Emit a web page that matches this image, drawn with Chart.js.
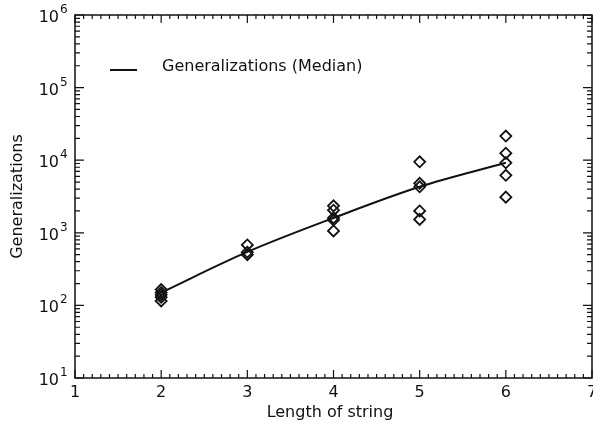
<!DOCTYPE html>
<html>
<head>
<meta charset="utf-8">
<script src="https://cdn.jsdelivr.net/npm/chart.js@4.4.0/dist/chart.umd.min.js"></script>
<style>
    html, body { margin: 0; padding: 0; background: #fff; }
    #wrap { width: 593px; height: 427px; }
</style>
</head>
<body>
<div id="wrap"><canvas id="chart" width="593" height="427"></canvas></div>
<script>
// --- Data ---
const stringLengths = [2, 3, 4, 5, 6];
const medianGeneralizations = [150, 545, 1600, 4300, 9200];
const runsLen2 = [165, 150, 140, 130, 115];
const runsLen3 = [680, 540, 500];
const runsLen4 = [2350, 2050, 1600, 1500, 1060];
const runsLen5 = [9500, 4800, 4300, 2000, 1530];
const runsLen6 = [21500, 12500, 9200, 6200, 3100];
const xTickLabels = ['1', '2', '3', '4', '5', '6', '7'];
const yTickExponents = ['1', '2', '3', '4', '5', '6'];

const FONT = '"DejaVu Sans", sans-serif';
const INK = '#111';

const allRuns = [runsLen2, runsLen3, runsLen4, runsLen5, runsLen6];
const runPoints = [];
allRuns.forEach((runs, i) => {
    runs.forEach(v => runPoints.push({ x: stringLengths[i], y: v }));
});
const medianPoints = stringLengths.map((x, i) => ({ x: x, y: medianGeneralizations[i] }));

// --- Frame, inward ticks, labels and legend (IDL style) ---
const framePlugin = {
    id: 'frame',
    afterDraw(chart) {
        const ctx = chart.ctx;
        const xs = chart.scales.x;
        const ys = chart.scales.y;
        const { left, right, top, bottom } = chart.chartArea;

        ctx.save();
        ctx.strokeStyle = INK;
        ctx.fillStyle = INK;
        ctx.lineWidth = 1.5;
        ctx.strokeRect(left, top, right - left, bottom - top);

        // x ticks, every 0.1
        ctx.lineWidth = 1.2;
        ctx.beginPath();
        for (let i = 10; i <= 70; i++) {
            const px = xs.getPixelForValue(i / 10);
            const len = i % 10 === 0 ? 8 : 4;
            ctx.moveTo(px, bottom); ctx.lineTo(px, bottom - len);
            ctx.moveTo(px, top); ctx.lineTo(px, top + len);
        }
        // y ticks, decades and 2..9
        for (let e = 1; e <= 6; e++) {
            for (let m = 1; m <= 9; m++) {
                if (e === 6 && m > 1) break;
                const py = ys.getPixelForValue(m * Math.pow(10, e));
                const len = m === 1 ? 9 : 5;
                ctx.moveTo(left, py); ctx.lineTo(left + len, py);
                ctx.moveTo(right, py); ctx.lineTo(right - len, py);
            }
        }
        ctx.stroke();

        // x tick labels
        ctx.font = '16px ' + FONT;
        ctx.textAlign = 'center';
        ctx.textBaseline = 'middle';
        xTickLabels.forEach(lab => {
            ctx.fillText(lab, xs.getPixelForValue(Number(lab)), bottom + 15);
        });

        // y tick labels 10^n
        yTickExponents.forEach(ex => {
            const py = ys.getPixelForValue(Math.pow(10, Number(ex)));
            ctx.font = '16px ' + FONT;
            ctx.textAlign = 'right';
            ctx.textBaseline = 'alphabetic';
            ctx.fillText('10', 59, py + 7);
            ctx.font = '12px ' + FONT;
            ctx.textAlign = 'left';
            ctx.fillText(ex, 60, py - 2);
        });

        // axis titles
        ctx.font = '16px ' + FONT;
        ctx.textAlign = 'center';
        ctx.textBaseline = 'middle';
        ctx.fillText('Length of string', 330, 413);
        ctx.save();
        ctx.translate(18, (top + bottom) / 2);
        ctx.rotate(-Math.PI / 2);
        ctx.fillText('Generalizations', 0, 0);
        ctx.restore();

        // legend
        ctx.lineWidth = 2;
        ctx.beginPath();
        ctx.moveTo(110, 70); ctx.lineTo(137, 70);
        ctx.stroke();
        ctx.textAlign = 'left';
        ctx.fillText('Generalizations (Median)', 162, 67);

        ctx.restore();
    }
};

new Chart(document.getElementById('chart'), {
    type: 'line',
    data: {
        datasets: [
            {
                label: 'Generalizations (Median)',
                data: medianPoints,
                borderColor: INK,
                borderWidth: 2,
                pointRadius: 0,
                fill: false,
                cubicInterpolationMode: 'monotone'
            },
            {
                label: 'Runs',
                data: runPoints,
                showLine: false,
                pointStyle: 'rectRot',
                pointRadius: 5.5,
                borderWidth: 1.8,
                borderColor: INK,
                backgroundColor: 'rgba(0,0,0,0)'
            }
        ]
    },
    options: {
        responsive: false,
        animation: false,
        devicePixelRatio: 1,
        layout: { autoPadding: false, padding: { left: 75, right: 1, top: 15, bottom: 49 } },
        plugins: { legend: { display: false }, tooltip: { enabled: false } },
        scales: {
            x: { type: 'linear', min: 1, max: 7, display: false },
            y: { type: 'logarithmic', min: 10, max: 1e6, display: false }
        }
    },
    plugins: [framePlugin]
});
</script>
</body>
</html>
